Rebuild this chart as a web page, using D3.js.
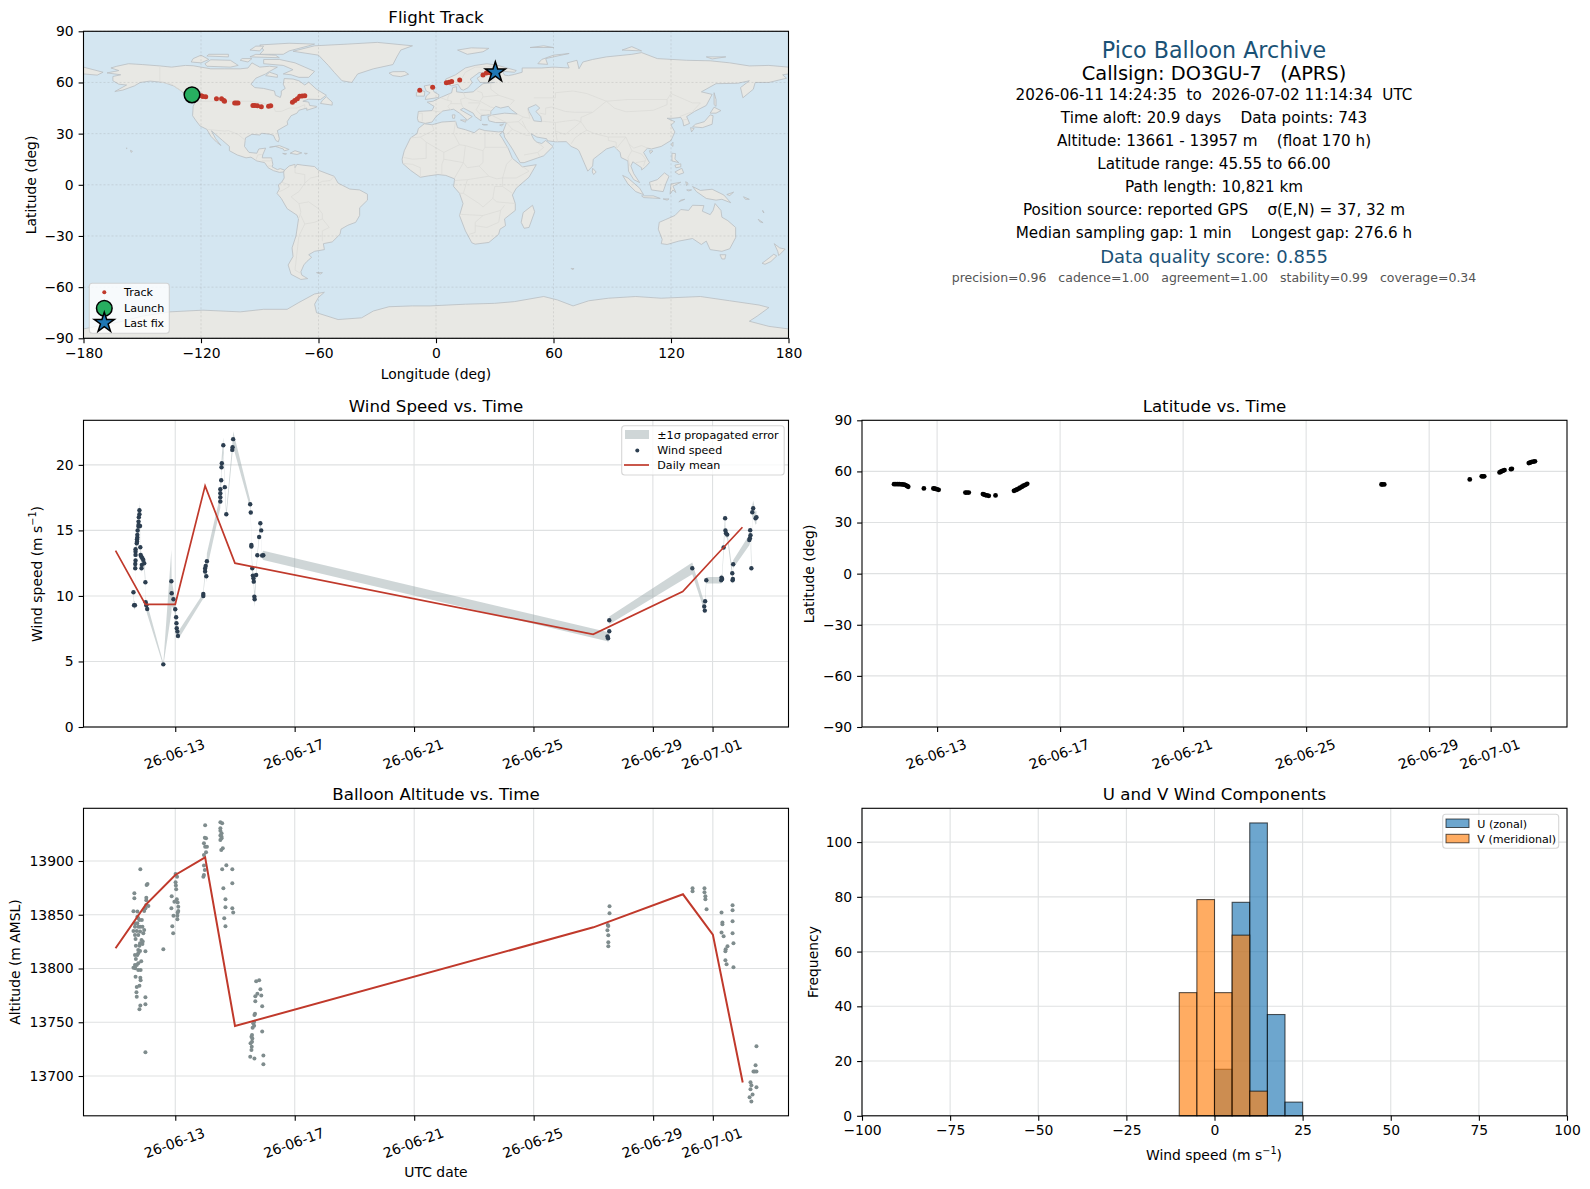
<!DOCTYPE html>
<html>
<head>
<meta charset="utf-8">
<script src="https://cdn.jsdelivr.net/npm/d3@7"></script>
<style>
  body { margin: 0; background: #fff; }
  svg { display: block; }
  text { font-family: "DejaVu Sans", sans-serif; fill: #000; white-space: pre; }
  .tick text { font-size: 13.9px; }
  .domain, .tick line { stroke: #000; stroke-width: 1.1; }
  .grid line { stroke: #dfe1e2; stroke-width: 1.1; }
</style>
</head>
<body>
<svg width="1590" height="1189" viewBox="0 0 1590 1189"></svg>
<script>
'use strict';

// flight track, lon / lat
const trackLon = [-119.8,-119,-117.6,-112.1,-109.5,-108.3,-108,-102.8,-102,-101.1,-93.5,-92.5,-91.2,-89.2,-85.5,-84.4,-73.3,-72.1,-70.8,-69.6,-68.3,-67,-8.3,-1.7,5.3,6.7,8,12.1,24,25.7,27.5];
const trackLat = [52.2,51.8,51.6,50.4,50.4,49.4,49,48,48,48,46.5,46.5,46.3,45.7,46,46.3,48.4,49.4,50.4,51.9,52.1,52.2,55.4,57.2,59.8,60.2,60.5,61.4,64.4,65.5,65.7];
const launch = [-124.6, 52.75];
const lastFix = [30.3, 66.0];

// wind speed samples, day of june (31 = 1 july)
const windDays = [
  11.60,11.62,11.65,11.66,11.66,11.67,11.67,11.67,11.67,11.71,
  11.72,11.72,11.73,11.73,11.74,11.77,11.77,11.77,11.78,11.80,
  11.80,11.82,11.83,11.84,11.86,11.87,11.88,11.90,11.93,11.96,
  12.00,12.01,12.03,12.06,12.60,12.87,12.88,12.94,13.00,13.03,
  13.04,13.05,13.07,13.09,13.94,13.94,14.00,14.00,14.02,14.04,14.06,
  14.51,14.51,14.51,14.51,14.54,14.55,14.56,14.61,14.66,14.71,
  14.91,14.92,14.94,15.51,15.53,15.55,15.55,15.58,15.60,15.62,
  15.63,15.65,15.66,15.71,15.75,15.81,15.85,15.88,15.91,15.95,
  27.48,27.50,27.54,27.54,30.32,30.72,30.74,30.75,30.79,31.29,
  31.30,31.32,31.37,31.42,31.43,31.45,31.49,31.66,31.67,31.68,
  31.69,32.23,32.25,32.26,32.27,32.30,32.33,32.36,32.44,32.47];
const windSpeed = [
  10.28,9.29,9.29,12.11,12.44,12.70,13.13,13.38,13.56,14.02,
  14.15,14.33,14.45,14.66,14.99,15.29,15.42,15.67,16.0,16.23,
  16.54,15.34,13.71,13.13,13.0,12.11,12.37,12.87,12.75,12.49,
  11.04,9.52,9.29,9.0,4.78,11.12,10.2,9.75,8.98,8.37,
  7.91,7.53,7.28,6.95,10.0,10.15,11.86,12.1,12.29,11.5,12.65,
  17.2,17.53,17.84,18.14,18.83,19.82,20.13,21.5,18.3,16.23,
  21.14,21.35,21.96,17.0,16.36,13.89,13.77,12.11,11.55,11.35,
  11.09,9.95,9.75,11.6,13.1,14.5,15.55,15.0,13.08,13.1,
  6.9,6.77,7.3,8.14,12.11,9.19,8.88,9.59,11.2,11.2,
  11.4,11.3,13.7,15.93,14.99,14.78,14.68,11.73,11.2,11.3,
  12.42,14.27,14.4,15.01,14.63,12.11,16.39,16.69,15.93,16.0];
const windSigma = [
  .3,.3,.3,.4,.4,.4,.4,.4,.4,.5,
  .5,.5,.5,.5,.5,.6,.6,.6,.7,.7,
  .8,.6,.4,.4,.4,.4,.4,.4,.4,.4,
  .35,.4,.4,.4,.1,2.4,1,.7,.4,.3,
  .3,.3,.3,.3,.2,.2,.4,.5,.5,.5,.6,
  .5,.5,.5,.5,.5,.6,.6,.6,.3,.3,
  .4,.4,.6,.3,.3,.3,.3,.4,.4,.4,
  .4,.5,.6,.3,.2,.2,.3,.2,.2,.35,
  .35,.35,.3,.3,.45,.3,.3,.3,.25,.25,
  .3,.3,.4,.5,.4,.3,.3,.3,.3,.3,
  .3,.4,.4,.4,.4,.5,.5,.6,.5,.5];

// daily means
const meanDays = [11,12,13,14,15,27,30,31,32];
const meanWind = [13.46,9.36,9.36,18.4,12.5,7.07,10.33,12.8,15.24];
const meanAlt = [13818.8,13859,13887,13903.4,13746.5,13838.3,13869,13831.5,13694];

// latitude samples
const latDays = [11.6,11.66,11.72,11.77,11.83,11.88,11.93,11.97,12.02,12.06,12.57,12.88,12.92,12.95,13.0,13.05,
  13.92,13.97,14.03,14.49,14.53,14.57,14.62,14.68,14.9,15.5,15.55,15.6,15.65,15.7,15.76,15.81,15.87,15.93,
  27.45,27.48,27.54,30.32,30.71,30.75,30.79,31.29,31.33,31.37,31.41,31.45,31.66,31.69,32.24,32.28,32.32,32.38,32.44];
const latValues = [52.5,52.5,52.5,52.5,52.4,52.4,52.2,52,51.5,51,50,50,49.9,49.8,49.5,49.2,
  47.6,47.6,47.6,46.7,46.4,46.1,45.9,45.7,45.9,48.6,49,49.4,49.9,50.4,51,51.6,52.1,52.7,
  52.35,52.35,52.35,55.3,57.1,57.1,57.1,59.4,59.8,60.2,60.5,60.8,61.3,61.5,64.9,65.2,65.5,65.7,65.9];

// altitude samples
const altDays = [
  11.83,11.63,11.63,11.60,11.73,12.04,12.07,12.03,12.03,12.03,
  12.10,12.00,11.96,11.73,11.88,11.80,11.76,11.65,11.73,11.82,
  11.65,11.76,11.90,11.96,11.60,11.71,11.82,11.65,11.76,11.93,
  11.67,11.87,11.91,11.82,11.68,11.80,11.90,11.76,12.00,11.65,
  11.76,11.82,11.73,11.68,11.86,11.65,11.76,11.71,11.60,11.66,
  11.76,11.84,11.67,11.83,11.84,11.80,11.71,11.70,12.00,11.71,
  11.83,11.80,12.00,12.00,12.60,
  13.01,13.06,13.01,13.02,13.03,12.88,13.05,12.97,13.08,13.10,
  12.87,13.10,13.08,12.94,13.07,13.07,12.90,12.93,
  14.00,13.99,14.03,13.96,14.00,14.06,14.03,13.96,13.96,13.99,13.96,13.94,
  14.51,14.57,14.51,14.51,14.55,14.51,14.55,14.51,14.55,14.59,14.54,
  14.71,14.57,14.91,14.91,14.61,14.68,14.68,14.91,14.94,14.64,14.68,
  15.81,15.71,15.85,15.75,15.68,15.88,15.68,15.91,15.67,15.65,
  15.64,15.61,15.64,15.59,15.91,15.57,15.55,15.58,15.57,15.52,
  15.56,15.55,15.51,15.65,15.95,15.95,
  27.54,27.54,27.48,27.50,27.47,27.50,27.50,27.50,
  30.32,30.32,30.72,30.72,30.75,30.75,30.79,
  31.29,31.32,31.32,31.29,31.36,31.49,31.43,31.42,31.42,31.46,31.66,31.66,31.66,31.66,31.69,31.69,
  32.46,32.43,32.36,32.40,32.46,32.26,32.29,32.46,32.26,32.33,32.23,32.29];
const altMeters = [
  13892.2,13869.9,13865.3,13853.2,13852.9,13877.7,13878.6,13865.9,13863.4,13859.1,
  13858.1,13856,13853.5,13848.2,13845.1,13845.1,13846.7,13842,13842,13838.9,
  13838.9,13838.9,13838.9,13835.8,13834.9,13834.9,13834.3,13831.2,13831.2,13832.7,
  13827.4,13826.5,13825,13823.4,13821.2,13821.2,13822.8,13817.2,13816,13812.6,
  13814.1,13816.3,13812.6,13808.8,13806.7,13803.3,13804.8,13803.3,13800.8,13800.2,
  13798.6,13798.6,13792.4,13791.5,13789,13784,13782.8,13777.8,13773.2,13773.8,
  13765.7,13762,13766.7,13722,13817.8,
  13887.9,13885.4,13880.2,13877.1,13873.6,13867.1,13864.3,13862.2,13861.5,13857.5,
  13856,13853.5,13852.2,13849.1,13849.1,13845.7,13839.2,13832.7,
  13933.2,13921.7,13921.1,13916.4,13913.3,13913.3,13908.1,13905.6,13895.7,13891.6,13887,13885.4,
  13936,13935,13930.4,13928.2,13925.7,13923.6,13922.6,13919.5,13921.1,13911.8,13910.2,
  13896,13892.2,13892.2,13879.2,13874.6,13864.3,13856.9,13856,13852.2,13846.7,13839.2,
  13789,13788.1,13780.6,13776.6,13774.1,13775,13769.5,13764.8,13758,13756.7,
  13750.5,13749,13746.8,13744.9,13741.5,13738.1,13736.6,13735,13731.9,13730.4,
  13727.3,13724.2,13718,13716.4,13719.2,13710.9,
  13857.8,13851.3,13840.5,13839.5,13835.5,13830.9,13824.3,13820.6,
  13874.6,13871.8,13874.6,13870.9,13867.1,13864.3,13855,
  13852.2,13842.9,13841.1,13833.6,13829.9,13820.6,13817.8,13816,13807.6,13803.9,13858.8,13854.1,13843.9,13832.7,13823.4,13801.1,
  13727.6,13709.9,13704.3,13704.3,13704.3,13694.1,13691.3,13689.5,13687.6,13682.9,13680.2,13676.4];

// histogram of wind components
const binEdges = [-10,-5,0,5,10,15,20,25];
const uCounts = [0,0,17,78,107,37,5];
const vCounts = [45,79,45,66,9,0,0];

// info panel lines
const infoLines = [
  ['Pico Balloon Archive', 51.5, 22.2, '#1a5276'],
  ['Callsign: DO3GU-7   (APRS)', 74.3, 19.4, '#000'],
  ['2026-06-11 14:24:35  to  2026-07-02 11:14:34  UTC', 95.3, 15.2, '#000'],
  ['Time aloft: 20.9 days    Data points: 743', 118.7, 15.2, '#000'],
  ['Altitude: 13661 - 13957 m    (float 170 h)', 141.3, 15.2, '#000'],
  ['Latitude range: 45.55 to 66.00', 164.3, 15.2, '#000'],
  ['Path length: 10,821 km', 187.3, 15.2, '#000'],
  ['Position source: reported GPS    σ(E,N) = 37, 32 m', 210.3, 15.2, '#000'],
  ['Median sampling gap: 1 min    Longest gap: 276.6 h', 233.3, 15.2, '#000'],
  ['Data quality score: 0.855', 257.7, 18, '#1a5276'],
  ['precision=0.96   cadence=1.00   agreement=1.00   stability=0.99   coverage=0.34', 278.7, 12.5, '#555']
];

// rough coastlines, lon/lat
const land = [
  // north america
  [[-168,65.6],[-164,66.5],[-162,67],[-166,68.5],[-163,69.5],[-157,71],[-150,70.5],[-141,69.7],[-135,69],[-128,70],[-124,69.8],[-115,68],[-108,68],[-100,68],[-96,68.5],[-94,71.5],[-90,69],[-85,69.5],[-81,69],[-85,66.5],[-87,65],[-92,62.5],[-94.5,59],[-92.5,57],[-88,56.5],[-82.5,55],[-82,52.5],[-79.5,51.2],[-79,53],[-79,55],[-77,56.5],[-78,59],[-77.5,62.3],[-73,62],[-70,61],[-67,58.5],[-65,60.2],[-61,56],[-56,52.5],[-59,50],[-65,50.2],[-68,49],[-65,48.5],[-64.5,46.5],[-61,46],[-61,45.5],[-66,43.7],[-66,45],[-70,43.7],[-71,42],[-74,40.5],[-76,37],[-75.7,35.3],[-78,33.8],[-81,31.8],[-80,27],[-80.5,25.2],[-81.8,26],[-83,29],[-85,29.7],[-89,30.2],[-90,29.2],[-94,29.6],[-97.3,27.5],[-97.8,22.5],[-95.5,19],[-91.5,18.5],[-90.5,21],[-87,21.5],[-88.5,17.5],[-88.7,15.8],[-84,15.8],[-83.3,12],[-83.7,10.5],[-81,8.9],[-79.5,9.5],[-77.3,8.6],[-77.8,7.5],[-80,7.3],[-83,8.3],[-85.7,10],[-87.5,13],[-91.5,14],[-94.5,16.2],[-97,15.8],[-101.5,17.5],[-105.5,20],[-105.5,22.5],[-109,26],[-112.5,29.5],[-114.7,31.7],[-112.5,27],[-109.8,23],[-112,25],[-115,28.5],[-117,32.5],[-120.5,34.5],[-122.5,37.5],[-124.3,40.5],[-124,46],[-123,48.5],[-125,50],[-128,52.5],[-130,55],[-134,58],[-139,60],[-146,60.8],[-151,60],[-154,58],[-160,55.5],[-164,54.7],[-158,58.5],[-162,59],[-165,61],[-165,63.5],[-161,64.5]],
  // arctic canada
  [[-80,73.5],[-72,71.5],[-67,69],[-62,66.5],[-65,63],[-70,63],[-74,64.5],[-78,65],[-73,67.5],[-78,70],[-88,71],[-88,73.5]],
  [[-117,69.5],[-105,69],[-101,70],[-105,73],[-115,73.3],[-118,71]],
  [[-125,72],[-120,71.5],[-116,73.5],[-120,76],[-124,74]],
  [[-90,76.5],[-78,76.5],[-75,78.5],[-65,81.5],[-62,82.5],[-75,83],[-90,82],[-88,79]],
  [[-95,75],[-80,74.5],[-82,76],[-92,76.5]],
  [[-117,75.5],[-106,75],[-106,76.5],[-116,76.5]],
  [[-95,79],[-90,78.5],[-88,81.3],[-92,81.3]],
  [[-100,73],[-96,72],[-94,74],[-99,74]],
  [[-87,64],[-81,63],[-81,64.5],[-85,66]],
  [[-59,47.7],[-53,46.7],[-53,48.5],[-56,51.6],[-58,49.5]],
  [[-128,50.8],[-125,50],[-123.5,48.4],[-126,49.4]],
  // caribbean, hawaii
  [[-85,22],[-80,23],[-75,20.7],[-77.5,19.9],[-78,21],[-82,22.5]],
  [[-74.5,18.5],[-72,20],[-68.5,18.7],[-71,17.8]],
  [[-78.3,18.4],[-76.3,18.2],[-77,17.8]],
  [[-67.2,18.5],[-65.7,18.4],[-66.5,18]],
  [[-156,20.2],[-155,19.6],[-155.7,19]],
  [[-158.2,21.6],[-157.7,21.4],[-158,21.2]],
  // greenland, iceland
  [[-73,78.3],[-60,76],[-55,70],[-52,66],[-48,61],[-43,60],[-40,65],[-32,68],[-22,70.5],[-20,75],[-18,79],[-12,81.5],[-30,83.5],[-45,82.5],[-62,81.5]],
  [[-24,65.5],[-22,64],[-18,63.4],[-14,64.8],[-16,66.4],[-22,66.3]],
  // south america
  [[-77.3,8.6],[-75,11],[-72,12],[-72,10],[-71,12],[-68,11.5],[-62,10.7],[-60,8.5],[-52,5],[-50,1],[-44,-2.5],[-39,-3],[-35,-5.5],[-35,-9],[-39,-13.5],[-39,-18],[-41,-22],[-45,-23.7],[-48.5,-26],[-49,-29],[-53,-33.5],[-57.5,-34.5],[-57,-38],[-62,-39],[-65,-41],[-63.5,-42.5],[-66,-45],[-67.5,-47],[-69,-51],[-68.5,-53],[-65.5,-55],[-69,-55.5],[-74,-52.5],[-75.5,-47],[-73,-42],[-73.5,-37],[-71.5,-30],[-70.2,-20],[-71,-17.8],[-76,-14],[-79,-8],[-81.2,-5],[-80,-2.5],[-80.5,0],[-78.8,1.5],[-77.5,4],[-77.8,7.5]],
  [[-61,-51.5],[-58,-51.5],[-59,-52.3]],
  // africa
  [[-6,35.8],[-2,35.2],[3,36.8],[10,37.3],[11,33.5],[15,32.3],[19.5,30.5],[22,32.8],[25,31.8],[32,31],[34.3,31.3],[32.5,29.5],[34,27],[37,21],[39,15.5],[43.3,11.5],[44,10.5],[51.2,11.8],[47.5,4.5],[41,-2],[39,-6],[40.5,-11],[40.5,-15],[35,-20],[35.5,-24],[32.7,-26],[32,-29],[27,-33.8],[20,-34.8],[18.3,-34],[15,-27],[12,-18],[13.8,-11],[12,-5],[9,-1],[9.5,3.5],[5,5.5],[1,6],[-4,5.2],[-8,4.4],[-13,8.5],[-17,12.5],[-17.3,15],[-16.2,20],[-13,27.5],[-9.7,30],[-9,33]],
  [[49.3,-12],[50.4,-15.8],[47.5,-25],[45,-25.5],[43.5,-22],[44.5,-16.3]],
  // eurasia
  [[-9,37],[-9.5,39],[-9,43],[-2,43.5],[-1,46],[-4.5,48.5],[-1.5,49],[2,51],[4,52],[8,54],[8.5,57],[10.5,57.5],[10.5,54.5],[14,54],[19,54.5],[21,56.5],[24,59.3],[30,60],[22.5,60],[21,62.5],[25,65.5],[22,65.8],[17.5,62],[18.5,60],[16.5,57],[14,55.5],[12.8,56],[11.2,59],[8,58],[5.2,59.5],[5,62],[10,64.5],[15,68.5],[20,70],[26,71],[31,70.2],[41,67],[40,66],[34,66.5],[35,64.3],[37,64],[40,64.7],[44,66],[44,68.5],[54,68.5],[60,69],[68,68.5],[67,71.5],[72,73],[73,68],[75,72],[80,73.5],[87,75],[100,76.5],[105,77.5],[113,74],[128,73],[140,72.7],[150,71.5],[160,69.7],[170,70],[180,69],[180,65],[177,64.5],[179,62.5],[170,60],[163,60],[162,56],[156.7,51],[155.5,57],[160,61],[154,59.5],[143,59.3],[135.5,54.5],[141,53],[138,46.5],[132,43],[128,40],[129.5,36],[126.5,34.5],[126,37.5],[125,39.5],[121,39],[118,39],[122,37],[120,35],[122,31],[120,26],[115,22.5],[110,21],[108,21.5],[106,19],[109,13],[107,10.5],[105,8.7],[105,10],[100.5,13.5],[99.5,11],[101,6.5],[104,1.3],[101,3],[98.3,8],[98,14],[94.5,16],[94,19],[91,22.5],[87,21],[80.3,15],[80,11],[77.5,8],[73,20],[72,21],[69,22.5],[66.5,25.3],[61,25.2],[57,25.8],[56.5,27],[51.5,28],[48.5,30],[50,26.5],[51.5,25],[54,24.2],[56,26],[59.8,22.5],[55,17],[45,13],[43,13],[39,21],[35,28],[34.8,29.5],[34.3,31.3],[36,36.5],[30.5,36.5],[27,37.5],[26.5,40],[29,41],[35,42],[41.5,41.5],[38,44.5],[37,46],[33,45],[30.5,46],[28,43],[28,41.2],[23,40.5],[23,37.5],[20,40],[19,42],[14,45],[12.5,44],[18.5,40],[16,38],[12,42],[9,44.3],[3.5,43.3],[0,40],[-2,36.8],[-5.5,36]],
  [[-180,69],[-170,66],[-173,64.3],[-180,65]],
  // europe islands
  [[-5.5,50],[1.3,51.2],[1.5,52.8],[-1,54.5],[-2,57],[-3,58.6],[-6,58],[-5,55],[-3,54],[-5,52]],
  [[-10,52],[-6,52],[-5.7,54.7],[-8,55.3],[-10,54]],
  [[11,79],[16,76.5],[24,78],[27,80],[18,80.3]],
  [[52,71],[57,70.6],[56,74],[68,77],[60,76],[54,73.5]],
  [[48,80.5],[60,80.5],[55,81.5]],
  [[95,79],[105,78.5],[100,81]],
  [[138,75],[148,75],[141,73.8]],
  [[12.5,38],[15.5,38],[15,36.7]],
  [[8.3,41],[9.7,41],[9.5,39],[8.5,39]],
  [[23.5,35.5],[26.3,35.2],[24.5,35]],
  [[32.5,35],[34.5,35.6],[33.5,34.6]],
  // east asia
  [[142,54],[143,50],[143,46],[142,47],[142,52]],
  [[131,34],[136,33.5],[141,35.5],[141.5,40.5],[140,41],[137,37],[132.5,35.5]],
  [[140,42],[143,42],[145.5,43.5],[142,45.5]],
  [[130,33.5],[131.8,33],[130.5,31]],
  [[121,25],[121,22.5],[120,23.5]],
  [[109,20],[110.8,19.8],[109.5,18.3]],
  [[80,9.7],[81.8,7.5],[80.5,6],[79.8,7.5]],
  [[120.5,18.5],[122.3,18.3],[122,15],[124,13],[120.5,14]],
  [[122,7.5],[125.5,9.7],[126.5,7],[124,6]],
  [[122,11.5],[125,12.3],[125,10.5],[122.5,10]],
  // indonesia, oceania
  [[95.3,5.5],[98,4],[104,-2],[106,-5.8],[102,-4],[98,0.5]],
  [[105,-6.5],[111,-6.5],[114.5,-8],[106,-7.5]],
  [[109,1.5],[113,3],[116.7,7],[119,5],[117.5,1],[116,-4],[110,-3]],
  [[119.5,-5.5],[120,0.5],[125,1.5],[121,-0.8],[122.5,-4.5],[121,-3]],
  [[131,-1],[135,-3.3],[141,-2.6],[147,-6],[150.5,-10.5],[146,-8.5],[143,-9],[138,-8],[133,-4]],
  [[148.5,-5.7],[152,-4.3],[150,-6.3]],
  [[124,-10],[127,-8.5],[125,-9]],
  [[116,-8.3],[119,-8.3],[118,-9]],
  [[128,-3],[130.5,-3],[129,-3.6]],
  [[127.5,1.8],[128.7,1],[128,-0.5]],
  [[157,-7],[160,-8.5],[158,-8.5]],
  [[166.8,-15],[167.5,-16.5],[167,-16]],
  [[164.5,-20.2],[167,-22.2],[165.5,-21.8]],
  [[114,-22],[113.5,-26],[115.5,-32],[115,-34.5],[118,-35],[124,-33],[131,-31.5],[135.5,-35],[138,-33],[140,-38],[146,-39],[150,-37.5],[153,-31],[153,-25],[149,-21],[146,-19],[145.5,-15],[142.5,-11],[141.5,-15],[140,-17.5],[136,-15.5],[136.8,-12.2],[131,-12],[129,-15],[125,-14.5],[122,-18],[117,-20.5]],
  [[145,-41],[148,-41],[147.5,-43.5],[146,-43.5]],
  [[172.7,-34.5],[175.5,-37],[178.3,-37.7],[175,-41.5],[174.5,-39]],
  [[172.5,-40.7],[174,-41.7],[171,-45],[168,-46.6],[166.5,-46],[170,-43]],
  [[69,-49],[70.5,-49.2],[69.5,-49.7]],
  // antarctica
  [[-180,-90],[-180,-84.5],[-160,-80],[-150,-77],[-136,-74.5],[-119,-73.5],[-100,-74.5],[-88,-73],[-76,-73],[-70,-69],[-62,-64],[-57,-63],[-60,-66],[-62,-70],[-61,-75],[-50,-79],[-38,-78],[-32,-74],[-24,-71.5],[-12,-71],[-3,-71],[15,-70],[30,-69.5],[40,-68.5],[55,-65.5],[62,-67.5],[70,-71],[78,-68],[88,-66.5],[102,-65.5],[115,-66.5],[135,-65.5],[150,-68],[165,-70.5],[170,-72],[164,-77],[160,-80],[170,-83],[180,-84.5],[180,-90]]
];
const caspian = [[47,45],[51,47],[53,45],[51,43],[53.5,40],[54,37],[50,37.5],[49,40],[47.5,43]];
const borders = [
  [[-141,69.7],[-141,60.3],[-135,59],[-130,55]],
  [[-123,49],[-95,49],[-89,48],[-83,46],[-82,43],[-79,43],[-75,45],[-71,45],[-67,47],[-67,45]],
  [[-117,32.5],[-108,31.5],[-106,31.8],[-101,29.5],[-97.3,26]],
  [[-92,14.5],[-91,17.5],[-89,17.8]],[[-89,14],[-85,14],[-83.5,15]],[[-85.7,11],[-83.7,11]],
  // south america
  [[-72,12],[-72,7],[-67,6],[-67,1],[-70,-4],[-74,-7],[-70,-11],[-69,-16],[-69.5,-18],[-70.2,-20]],
  [[-78.8,1.5],[-75,0],[-75,-1],[-78,-3],[-80,-4]],[[-60,8.5],[-60,5],[-64,4],[-67,1]],[[-52,5],[-54,2.5],[-58,2],[-60,1]],
  [[-70,-11],[-65,-10],[-60,-14],[-58,-17],[-58,-20],[-54.5,-25],[-58,-27],[-58,-33]],
  [[-69,-18],[-67,-23],[-62,-22],[-58,-20]],[[-67,-23],[-70,-30],[-71,-40],[-72,-50],[-69,-52]],
  // africa
  [[-2,35.2],[-1,32],[-8,28],[-13,27.5]],[[-8,28],[-5,25],[4,19],[12,23.5],[15,23],[24,20],[25,22],[25,31.8]],
  [[10,37.3],[9,30],[12,23.5]],[[25,22],[37,22]],[[24,20],[24,13],[22,11],[27,5],[31,3.5],[34,4],[36,12],[39,15.5]],
  [[-16.5,16],[-12,15],[-5,15.5],[-5,25]],[[4,19],[4,15],[14,13],[15,23]],[[-8,4.4],[-8,10],[-12,12],[-16.5,12.5]],
  [[3,6.3],[3,12],[4,15]],[[9.5,4],[14,13]],[[14,13],[16,10],[22,11]],[[16,3],[27,5]],[[12,-5],[14,-5],[16,3],[9.5,2.5]],
  [[34,4],[41,4],[47.5,8],[43.3,11.5]],[[34,4],[34,-1],[39,-5]],[[34,-1],[30,-1],[29,-8],[31,-10],[40.5,-11]],
  [[14,-5],[22,-11],[24,-13],[29,-8]],[[12,-17.3],[24,-18],[33,-15],[35,-12]],[[17,-29],[20,-28],[20,-22],[24,-18]],[[20,-24],[26,-25],[32,-22],[33,-15]],
  // europe and asia
  [[-9,42],[-7,42],[-7,37.3]],[[-2,43.5],[3,42.5]],[[2.5,51],[6,49.5],[8,49],[7.5,47.6],[6,46],[7.5,44]],[[7.5,47.6],[13,47.5],[13.5,46],[14,45.5]],
  [[7,53.5],[6,51],[6,49.5]],[[14,54],[15,51],[12.5,50],[13,47.5]],[[15,51],[18.5,49.7],[22.5,49],[24,51.5],[23.5,54],[21,55]],[[22.5,49],[28,45.5],[29.7,45.3]],
  [[16.5,48],[22.5,48],[20.5,44],[22.5,41.5],[26,41]],[[28,43.5],[22.5,44]],[[24,51.5],[32,52.5],[40,49.5],[38,47]],[[28,59.5],[28,56],[32,52.5]],[[12,60],[15,66],[20,69],[25,69]],[[25,69],[29,69.7]],[[29,69.7],[30,62],[28,60.5]],
  [[27,41.5],[36,36.5],[42,37],[44.7,39.7],[41.5,41.5]],[[36,36.5],[39,32.5],[36,29.5]],[[42,37],[46,33],[48,30]],[[44.7,39.7],[48,39],[46.7,44.5]],[[46,33],[44,37.5]],
  [[39,32.5],[46,29],[48,29]],[[52,24.5],[55,22],[52,19],[53,16.5]],[[45,17.5],[52,19]],
  [[54,37.3],[61,36.5],[61,31.5],[62,25.2]],[[61,31.5],[66,29.5],[71,34],[74,37],[71,38]],[[61,36.5],[66,37.3],[71,38]],[[74,37],[77,32],[74,30],[71,27.5],[69,24]],
  [[53,42],[56,41.3],[56,45],[59,45.6],[66,43],[71,42.5],[80,42.5]],[[50,51],[61,51],[61,54],[70,55],[77,53.5],[87,49],[98,50],[106,50],[118,50],[120,53.5],[127,50],[131,48],[135,48],[131,43]],
  [[87,49],[80,42.5],[74,39.5],[74,37]],[[87,49],[91,45],[97,42.8],[111,43.7],[118,47],[118,50]],
  [[77,32],[81,30],[88,28],[97,28],[98.5,24],[101,21.5],[105,23],[108,21.5]],[[88,28],[88,26],[92,25],[92,21]],[[97,28],[94,24],[92,21]],[[98.5,24],[100,20],[98,16],[99,11]],[[100,20],[105,18],[107,15],[106,11]],[[102,13],[107,14]],
  [[124.4,40],[129,42],[130.6,42.5]],[[126,38],[128.4,38.5]]
];

// tick values
const tickDays = [13,17,21,25,29,31];
const lonTicks = [-180,-120,-60,0,60,120,180];
const latTicks = [-90,-60,-30,0,30,60,90];
const windTicks = [0,5,10,15,20];
const altTicks = [13700,13750,13800,13850,13900];
const histXTicks = [-100,-75,-50,-25,0,25,50,75,100];
const histYTicks = [0,20,40,60,80,100];

const svg = d3.select('svg');
const RED = '#c0392b';
const minus = s => String(s).replace('-', '\u2212');
const dayDate = d => new Date(Date.UTC(2026, 5, 1) + (d - 1) * 864e5);
const fmtDay = d3.utcFormat('%y-%m-%d');

const leftCol = [83.5, 788.5], rightCol = [862, 1567];
const row0 = [31.3, 338.3], row1 = [420.3, 727], row2 = [808.3, 1115.8];

function padded(arr) {
  const [a, b] = d3.extent(arr);
  const m = (b - a) * 0.05;
  return [dayDate(a - m), dayDate(b + m)];
}

function frame(xr, yr, x, y, xAxis, yAxis, opts) {
  const g = svg.append('g');
  const w = xr[1] - xr[0], h = yr[1] - yr[0];
  const grid = g.append('g').attr('class', 'grid');
  grid.selectAll('.gx').data(xAxis.tickValues()).enter().append('line')
      .attr('x1', x).attr('x2', x).attr('y1', yr[0]).attr('y2', yr[1]);
  grid.selectAll('.gy').data(yAxis.tickValues()).enter().append('line')
      .attr('y1', y).attr('y2', y).attr('x1', xr[0]).attr('x2', xr[1]);
  const marks = g.append('g');
  const top = g.append('g');
  top.append('rect').attr('x', xr[0]).attr('y', yr[0]).attr('width', w).attr('height', h)
      .attr('fill', 'none').attr('stroke', '#000').attr('stroke-width', 1.1);
  const ax = top.append('g').attr('transform', `translate(0,${yr[1]})`).call(xAxis);
  const ay = top.append('g').attr('transform', `translate(${xr[0]},0)`).call(yAxis);
  ax.select('.domain').remove();
  ay.select('.domain').remove();
  if (opts.rotate) {
    ax.selectAll('.tick text')
        .attr('y', 0).attr('dy', 0)
        .attr('text-anchor', 'middle')
        .attr('dominant-baseline', 'middle')
        .attr('transform', 'translate(-1,28) rotate(-20)');
  }
  top.append('text').attr('x', (xr[0] + xr[1]) / 2).attr('y', yr[0] - 8)
      .attr('text-anchor', 'middle').style('font-size', '16.67px').text(opts.title);
  return {marks, top};
}

function bottomAxis(scale, values, fmt) {
  return d3.axisBottom(scale).tickValues(values).tickFormat(fmt).tickSize(4.9).tickPadding(4.9);
}
function leftAxis(scale, values) {
  return d3.axisLeft(scale).tickValues(values).tickFormat(minus).tickSize(4.9).tickPadding(4.9);
}

function xLabel(x, y, t) {
  return svg.append('text').attr('x', x).attr('y', y).attr('text-anchor', 'middle')
      .attr('dominant-baseline', 'middle').style('font-size', '13.9px').text(t);
}
function yLabel(x, y, t) {
  return svg.append('text').attr('transform', `translate(${x},${y}) rotate(-90)`)
      .attr('text-anchor', 'middle').attr('dominant-baseline', 'middle')
      .style('font-size', '13.9px').text(t);
}
function superUnit(el) {
  el.append('tspan').attr('dy', -5).style('font-size', '9.7px').text('\u22121');
  el.append('tspan').attr('dy', 5).text(')');
}

function legendBox(g, x, y, w, h) {
  g.append('rect').attr('x', x).attr('y', y).attr('width', w).attr('height', h).attr('rx', 3)
      .attr('fill', '#fff').attr('fill-opacity', 0.8)
      .attr('stroke', '#ccc').attr('stroke-opacity', 0.8).attr('stroke-width', 1.1);
}
function legendText(g, x, y, t) {
  g.append('text').attr('x', x).attr('y', y).attr('dominant-baseline', 'middle')
      .style('font-size', '11.1px').text(t);
}

// ---- map
{
  const x = d3.scaleLinear().domain([-180, 180]).range(leftCol);
  const y = d3.scaleLinear().domain([-90, 90]).range([row0[1], row0[0]]);
  const lineGen = d3.line().x(d => x(d[0])).y(d => y(d[1]));
  const f = frame(leftCol, row0, x, y,
    bottomAxis(x, lonTicks, minus), leftAxis(y, latTicks), {title: 'Flight Track'});
  const m = f.marks;
  m.append('rect').attr('x', leftCol[0]).attr('y', row0[0])
      .attr('width', leftCol[1] - leftCol[0]).attr('height', row0[1] - row0[0]).attr('fill', '#d4e6f1');
  m.selectAll('.land').data(land).enter().append('path').attr('class', 'land')
      .attr('d', d => lineGen(d) + 'Z')
      .attr('fill', '#e8e8e4').attr('stroke', '#b9bec2').attr('stroke-width', 0.8).attr('stroke-linejoin', 'round');
  m.append('path').attr('d', lineGen(caspian) + 'Z')
      .attr('fill', '#d4e6f1').attr('stroke', '#b9bec2').attr('stroke-width', 0.8);
  m.selectAll('.border').data(borders).enter().append('path').attr('class', 'border')
      .attr('d', lineGen).attr('fill', 'none').attr('stroke', '#dcdcd8').attr('stroke-width', 0.8);
  const g2 = m.append('g').attr('stroke', '#888').attr('stroke-opacity', 0.3)
      .attr('stroke-width', 0.7).attr('stroke-dasharray', '2,2');
  g2.selectAll('.v').data(lonTicks).enter().append('line')
      .attr('x1', x).attr('x2', x).attr('y1', row0[0]).attr('y2', row0[1]);
  g2.selectAll('.h').data(latTicks).enter().append('line')
      .attr('y1', y).attr('y2', y).attr('x1', leftCol[0]).attr('x2', leftCol[1]);
  m.selectAll('.trk').data(trackLon).enter().append('circle').attr('class', 'trk')
      .attr('cx', d => x(d)).attr('cy', (d, i) => y(trackLat[i])).attr('r', 2.5).attr('fill', RED);
  m.append('circle').attr('cx', x(launch[0])).attr('cy', y(launch[1])).attr('r', 7.8)
      .attr('fill', '#27ae60').attr('stroke', '#000').attr('stroke-width', 1.5);
  const star = d3.symbol(d3.symbolStar, 125);
  m.append('path').attr('d', star()).attr('transform', `translate(${x(lastFix[0])},${y(lastFix[1])})`)
      .attr('fill', '#1f77b4').attr('stroke', '#000').attr('stroke-width', 1.5);
  const lg = f.top.append('g');
  legendBox(lg, 89.3, 283.3, 80, 50);
  lg.append('circle').attr('cx', 104.3).attr('cy', 292.3).attr('r', 2).attr('fill', RED);
  lg.append('circle').attr('cx', 104.3).attr('cy', 308.3).attr('r', 7.8)
      .attr('fill', '#27ae60').attr('stroke', '#000').attr('stroke-width', 1.5);
  lg.append('path').attr('d', star()).attr('transform', 'translate(104.3,322.7)')
      .attr('fill', '#1f77b4').attr('stroke', '#000').attr('stroke-width', 1.5);
  legendText(lg, 124, 292.8, 'Track');
  legendText(lg, 124, 308.8, 'Launch');
  legendText(lg, 124, 323.5, 'Last fix');
  xLabel(436, 375, 'Longitude (deg)');
  yLabel(31.5, 185, 'Latitude (deg)');
}

// ---- info text
svg.selectAll('.info').data(infoLines).enter().append('text').attr('class', 'info')
    .attr('x', 1214).attr('y', d => d[1]).attr('text-anchor', 'middle')
    .attr('dominant-baseline', 'middle')
    .style('font-size', d => d[2] + 'px').style('fill', d => d[3]).text(d => d[0]);

// ---- wind speed
{
  const x = d3.scaleUtc().domain(padded(meanDays.concat(windDays))).range(leftCol);
  const y = d3.scaleLinear().domain([0, 23.4]).range([row1[1], row1[0]]);
  const f = frame(leftCol, row1, x, y,
    bottomAxis(x, tickDays.map(dayDate), fmtDay), leftAxis(y, windTicks), {title: 'Wind Speed vs. Time', rotate: true});
  const band = d3.area().x((d, i) => x(dayDate(d)))
      .y0((d, i) => y(windSpeed[i] - windSigma[i])).y1((d, i) => y(windSpeed[i] + windSigma[i]));
  f.marks.append('path').attr('d', band(windDays)).attr('fill', '#95a5a6').attr('fill-opacity', 0.45);
  f.marks.selectAll('circle').data(windDays).enter().append('circle')
      .attr('cx', d => x(dayDate(d))).attr('cy', (d, i) => y(windSpeed[i])).attr('r', 2.2).attr('fill', '#2c3e50');
  f.marks.append('path').attr('fill', 'none').attr('stroke', RED).attr('stroke-width', 1.7)
      .attr('d', d3.line().x(d => x(dayDate(d))).y((d, i) => y(meanWind[i]))(meanDays));
  const lg = f.top.append('g');
  legendBox(lg, 621.7, 425.7, 162.5, 49.3);
  lg.append('rect').attr('x', 625).attr('y', 430).attr('width', 24).attr('height', 9)
      .attr('fill', '#95a5a6').attr('fill-opacity', 0.45);
  lg.append('circle').attr('cx', 637.3).attr('cy', 450.5).attr('r', 2).attr('fill', '#2c3e50');
  lg.append('line').attr('x1', 624).attr('x2', 649).attr('y1', 465).attr('y2', 465).attr('stroke', RED).attr('stroke-width', 1.7);
  legendText(lg, 657.3, 435.5, '±1σ propagated error');
  legendText(lg, 657.3, 450.8, 'Wind speed');
  legendText(lg, 657.3, 466.3, 'Daily mean');
  superUnit(yLabel(37.5, 574, 'Wind speed (m s'));
}

// ---- latitude
{
  const x = d3.scaleUtc().domain(padded(latDays)).range(rightCol);
  const y = d3.scaleLinear().domain([-90, 90]).range([row1[1], row1[0]]);
  const f = frame(rightCol, row1, x, y,
    bottomAxis(x, tickDays.map(dayDate), fmtDay), leftAxis(y, latTicks), {title: 'Latitude vs. Time', rotate: true});
  f.marks.selectAll('circle').data(latDays).enter().append('circle')
      .attr('cx', d => x(dayDate(d))).attr('cy', (d, i) => y(latValues[i])).attr('r', 2.4).attr('fill', '#000');
  yLabel(809.5, 574, 'Latitude (deg)');
}

// ---- altitude
{
  const x = d3.scaleUtc().domain(padded(meanDays.concat(altDays))).range(leftCol);
  const y = d3.scaleLinear().domain([13663, 13949]).range([row2[1], row2[0]]);
  const f = frame(leftCol, row2, x, y,
    bottomAxis(x, tickDays.map(dayDate), fmtDay), leftAxis(y, altTicks), {title: 'Balloon Altitude vs. Time', rotate: true});
  f.marks.selectAll('circle').data(altDays).enter().append('circle')
      .attr('cx', d => x(dayDate(d))).attr('cy', (d, i) => y(altMeters[i])).attr('r', 2).attr('fill', '#7f8c8d');
  f.marks.append('path').attr('fill', 'none').attr('stroke', RED).attr('stroke-width', 2)
      .attr('d', d3.line().x(d => x(dayDate(d))).y((d, i) => y(meanAlt[i]))(meanDays));
  xLabel(436, 1173, 'UTC date');
  yLabel(16, 962, 'Altitude (m AMSL)');
}

// ---- histogram
{
  const x = d3.scaleLinear().domain([-100, 100]).range(rightCol);
  const y = d3.scaleLinear().domain([0, 112.35]).range([row2[1], row2[0]]);
  const f = frame(rightCol, row2, x, y,
    bottomAxis(x, histXTicks, minus), leftAxis(y, histYTicks), {title: 'U and V Wind Components'});
  [[uCounts, '#1f77b4'], [vCounts, '#ff7f0e']].forEach(([counts, color]) => {
    f.marks.append('g').selectAll('rect').data(counts).enter().append('rect')
        .attr('x', (d, i) => x(binEdges[i])).attr('width', (d, i) => x(binEdges[i + 1]) - x(binEdges[i]))
        .attr('y', d => y(d)).attr('height', d => y(0) - y(d))
        .attr('fill', color).attr('fill-opacity', 0.65)
        .attr('stroke', '#000').attr('stroke-opacity', 0.65).attr('stroke-width', 1.1);
  });
  const lg = f.top.append('g');
  legendBox(lg, 1442.7, 814.3, 116, 34);
  [['U (zonal)', '#1f77b4', 819, 824.8], ['V (meridional)', '#ff7f0e', 834.3, 840]].forEach(r => {
    lg.append('rect').attr('x', 1446).attr('y', r[2]).attr('width', 23).attr('height', 8.5)
        .attr('fill', r[1]).attr('fill-opacity', 0.65).attr('stroke', '#000').attr('stroke-opacity', 0.65);
    legendText(lg, 1477.3, r[3], r[0]);
  });
  superUnit(xLabel(1214, 1155.5, 'Wind speed (m s'));
  yLabel(813.5, 962, 'Frequency');
}
</script>
</body>
</html>
